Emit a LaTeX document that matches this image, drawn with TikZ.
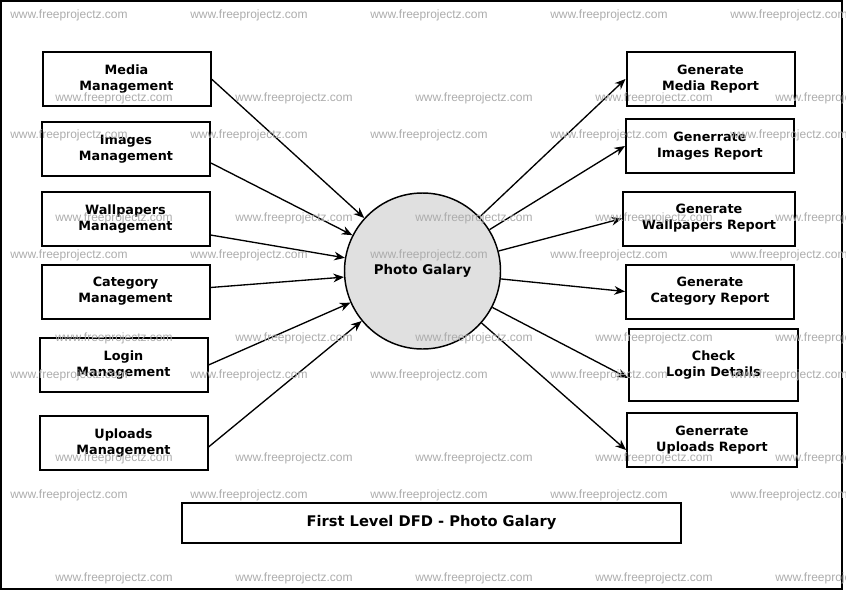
\documentclass[tikz,border=0pt]{standalone}
\usepackage{fontspec}
\setmainfont{DejaVu Sans}
\newfontfamily\wmfont{Liberation Sans}
\usepackage{tikz}
\usetikzlibrary{arrows.meta,calc}
\usepackage{xcolor}
\definecolor{bubblegray}{RGB}{224,224,224}
\definecolor{wmgray}{RGB}{172,172,172}

\begin{document}
\begin{tikzpicture}[x=0.75pt, y=-0.75pt,
    entity/.style={draw, line width=1.5pt, minimum width=126pt, minimum height=40.5pt,
        inner sep=0pt, align=center, font=\bfseries\fontsize{9.6}{12}\selectfont},
    process/.style={circle, draw, line width=1.1pt, fill=bubblegray, minimum size=117pt,
        inner sep=0pt, font=\bfseries\fontsize{10}{12}\selectfont},
    flow/.style={-{Stealth[length=8pt,width=6.5pt]}, line width=1pt},
    wmtext/.style={anchor=west, inner sep=0pt, text=wmgray, font=\wmfont\fontsize{9}{10}\selectfont}]
    \useasboundingbox (0,0) rectangle (846,593);
    \draw[line width=1.5pt] (1,1) rectangle (842,589);

    % central process
    \node[process] (pg) at (422.5,271) {Photo Galary};

    % left side entities
    \node[entity] (media) at (126.5,79) {Media\\Management};
    \node[entity] (images) at (126,149) {Images\\Management};
    \node[entity] (wallp) at (125.5,219) {Wallpapers\\Management};
    \node[entity] (categ) at (125.5,291.5) {Category\\Management};
    \node[entity] (login) at (123.5,365) {Login\\Management};
    \node[entity] (uploads) at (123.5,443) {Uploads\\Management};

    % right side reports
    \node[entity] (mrep) at (710.5,79) {Generate\\Media Report};
    \node[entity] (irep) at (710,146) {Generrate\\Images Report};
    \node[entity, minimum width=129pt] (wrep) at (709,218.5) {Generate\\Wallpapers Report};
    \node[entity] (crep) at (710,291.5) {Generate\\Category Report};
    \node[entity, minimum width=127pt, minimum height=54pt] (lrep) at (713.5,365) {Check\\Login Details};
    \node[entity, minimum width=127.5pt] (urep) at (712,440) {Generrate\\Uploads Report};

    \node[entity, minimum width=374pt, minimum height=30pt, font=\bfseries\fontsize{11}{13}\selectfont]
        (title) at (431.5,523) {First Level DFD - Photo Galary};

    % flows into the process
    \draw[flow] (media.east) -- (pg);
    \draw[flow] ($(images.east)+(0,14)$) -- (pg);
    \draw[flow] ($(wallp.east)+(0,16)$) -- (pg);
    \draw[flow] ($(categ.east)+(0,-4)$) -- (pg);
    \draw[flow] (login.east) -- (pg);
    \draw[flow] ($(uploads.east)+(0,4)$) -- (pg);

    % flows out to the reports
    \draw[flow] (pg) -- (mrep.west);
    \draw[flow] (pg) -- (irep.west);
    \draw[flow] (pg) -- (wrep.west);
    \draw[flow] (pg) -- (crep.west);
    \draw[flow] (pg) -- ($(lrep.west)+(0,13)$);
    \draw[flow] (pg) -- ($(urep.west)+(0,10)$);

    % watermark
    \begin{scope}
        \clip (0,0) rectangle (846,593);
        \foreach \y in {15,135,255,375,495}
            \foreach \x in {10,190,370,550,730}
                \node[wmtext] (wa-\x-\y) at (\x,\y) {www.freeprojectz.com};
        \foreach \y in {98,218,338,458,578}
            \foreach \x in {55,235,415,595,775}
                \node[wmtext] (wb-\x-\y) at (\x,\y) {www.freeprojectz.com};
    \end{scope}
\end{tikzpicture}
\end{document}
